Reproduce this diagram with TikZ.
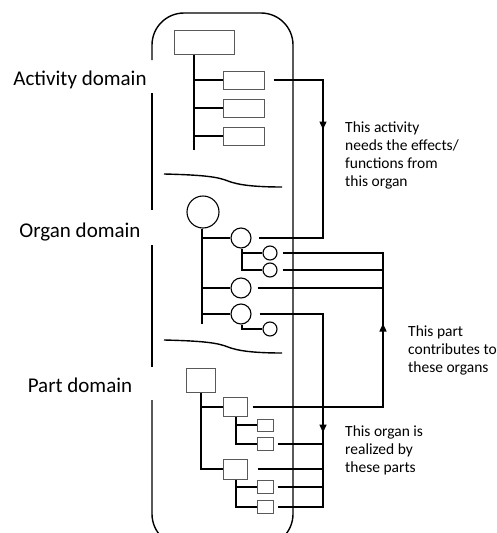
\documentclass[tikz,border=0pt]{standalone}
\usepackage{fontspec}
\setmainfont{Carlito}
\usetikzlibrary{arrows.meta,decorations.markings}

\begin{document}
\begin{tikzpicture}[x=1pt,y=-1pt,
  wire/.style={line width=1.4pt},
  frame/.style={line width=1.4pt, rounded corners=32pt},
  blk/.style={draw=black!65, line width=1pt, fill=white, inner sep=0pt},
  organ/.style={circle, draw=black, line width=1.1pt, fill=white, inner sep=0pt},
  lab/.style={font=\fontsize{21}{25}\selectfont, inner sep=0pt},
  note/.style={font=\fontsize{15.5}{17.7}\selectfont, align=left, inner sep=0pt},
  midarrow/.style={postaction={decorate}, decoration={markings,
    mark=at position #1 with {\arrow{Triangle[width=7pt,length=8pt]}}}}
]
\useasboundingbox (0,0) rectangle (496,533);
\clip (0,0) rectangle (496,533);

% domain frame, interrupted beside the labels
\draw[frame] (152,60) -- (152,13) -- (293,13) -- (293,546) -- (152,546) -- (152,400);
\draw[wire] (152,367) -- (152,245);
\draw[wire] (152,210) -- (152,93);

% domain labels
\node[lab, anchor=base] (LA) at (80,85) {Activity domain};
\node[lab, anchor=base] (LO) at (80,237) {Organ domain};
\node[lab, anchor=base] (LP) at (80,392) {Part domain};

% separators between domains
\draw[wire] (164,174) .. controls (205,175) and (218,177) .. (228,181)
  .. controls (238,185) and (255,187) .. (282,187);
\draw[wire] (164,340) .. controls (205,341) and (218,343) .. (228,347)
  .. controls (238,351) and (255,353) .. (282,353);

% bus lines
\coordinate (bA) at (323,0);
\coordinate (bB) at (383,0);

% activity tree
\node[blk, minimum width=60pt, minimum height=24pt] (A0) at (204,42) {};
\node[blk, minimum width=41pt, minimum height=18pt] (A1) at (243.5,80) {};
\node[blk, minimum width=41pt, minimum height=18pt] (A2) at (243.5,108) {};
\node[blk, minimum width=41pt, minimum height=18pt] (A3) at (243.5,136) {};
\coordinate (tA) at (194,150);
\draw[wire] (A0.south -| tA) -- (tA);
\draw[wire] (A1.west -| tA) -- (A1.west);
\draw[wire] (A2.west -| tA) -- (A2.west);
\draw[wire] (A3.west -| tA) -- (A3.west);

% organ tree
\node[organ, minimum size=32pt] (O0) at (203,212) {};
\node[organ, minimum size=20pt] (O1) at (241,238) {};
\node[organ, minimum size=14pt] (O11) at (270,253) {};
\node[organ, minimum size=14pt] (O12) at (270,270) {};
\node[organ, minimum size=20pt] (O2) at (241,288) {};
\node[organ, minimum size=20pt] (O3) at (241,314) {};
\node[organ, minimum size=14pt] (O31) at (270,329) {};
\coordinate (tO) at (202,324);
\draw[wire] (O0.south -| tO) -- (tO);
\draw[wire] (O1.west -| tO) -- (O1.west);
\draw[wire] (O2.west -| tO) -- (O2.west);
\draw[wire] (O3.west -| tO) -- (O3.west);
\coordinate (tO1) at (242,270);
\draw[wire] (O1.south -| tO1) -- (tO1) -- (O12.west);
\draw[wire] (O11.west -| tO1) -- (O11.west);
\coordinate (tO3) at (242,329);
\draw[wire] (O3.south -| tO3) -- (tO3) -- (O31.west);

% part tree
\node[blk, minimum width=29pt, minimum height=24pt] (P0) at (200.5,380) {};
\node[blk, minimum width=24pt, minimum height=19pt] (P1) at (235,407) {};
\node[blk, minimum width=16pt, minimum height=12pt] (PS1) at (265,425) {};
\node[blk, minimum width=16pt, minimum height=13pt] (PS2) at (265,444) {};
\node[blk, minimum width=24pt, minimum height=20pt] (P2) at (235,469) {};
\node[blk, minimum width=16pt, minimum height=13pt] (PS3) at (265,487) {};
\node[blk, minimum width=16pt, minimum height=13pt] (PS4) at (265,507) {};
\coordinate (tP) at (201,469);
\draw[wire] (P0.south -| tP) -- (tP) -- (P2.west);
\draw[wire] (P1.west -| tP) -- (P1.west);
\coordinate (tP1) at (236,444);
\draw[wire] (P1.south -| tP1) -- (tP1) -- (PS2.west);
\draw[wire] (PS1.west -| tP1) -- (PS1.west);
\coordinate (tP2) at (236,507);
\draw[wire] (P2.south -| tP2) -- (tP2) -- (PS4.west);
\draw[wire] (PS3.west -| tP2) -- (PS3.west);

% activity needs organ
\draw[wire, midarrow=99pt] ([xshift=9pt]A1.east) -- (A1.east -| bA) -- (O1.east -| bA) -- ([xshift=7pt]O1.east);

% parts contribute to organs
\draw[wire, midarrow=214pt] ([xshift=5pt]P1.east) -- (P1.east -| bB) -- (O11.east -| bB) -- ([xshift=5pt]O11.east);
\draw[wire] ([xshift=5pt]O12.east) -- (O12.east -| bB);
\draw[wire] ([xshift=6pt]O2.east) -- (O2.east -| bB);

% organ realized by parts
\draw[wire, midarrow=182pt] ([xshift=8pt]O3.east) -- (O3.east -| bA) -- (PS4.east -| bA) -- ([xshift=4pt]PS4.east);
\draw[wire] ([xshift=4pt]PS2.east) -- (PS2.east -| bA);
\draw[wire] ([xshift=10pt]P2.east) -- (P2.east -| bA);
\draw[wire] ([xshift=4pt]PS3.east) -- (PS3.east -| bA);

% annotations
\node[note, anchor=north west] (N1) at (345,122) {This activity\\needs the effects/\\functions from\\this organ};
\node[note, anchor=north west] (N2) at (408,326) {This part\\contributes to\\these organs};
\node[note, anchor=north west] (N3) at (345,426) {This organ is\\realized by\\these parts};
\end{tikzpicture}
\end{document}
